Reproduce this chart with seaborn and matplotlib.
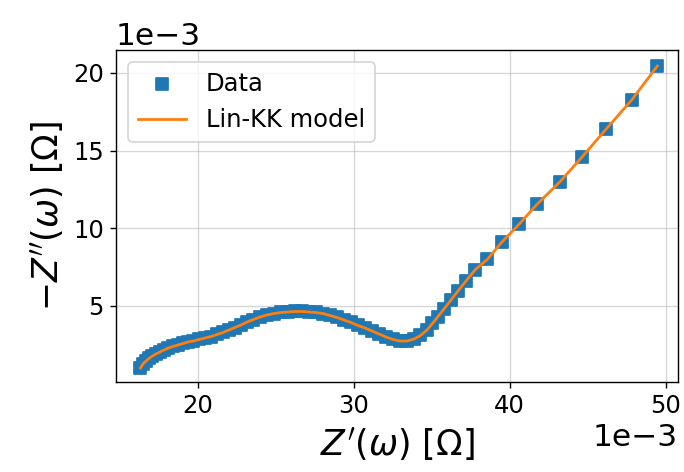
import numpy as np
import pandas as pd
import matplotlib
matplotlib.use("Agg")
import matplotlib.pyplot as plt
import seaborn as sns

# Impedance data (Ohm)
z_real = [0.016342, 0.016502, 0.016694, 0.016887, 0.017111, 0.017335, 0.017591, 0.017848,
          0.018136, 0.018424, 0.018744, 0.019065, 0.019385, 0.019737, 0.020090, 0.020474,
          0.020858, 0.021243, 0.021627, 0.022012, 0.022396, 0.022780, 0.023165, 0.023581,
          0.023997, 0.024446, 0.024894, 0.025343, 0.025791, 0.026240, 0.026688, 0.027136,
          0.027585, 0.028033, 0.028482, 0.028930, 0.029379, 0.029827, 0.030275, 0.030724,
          0.031172, 0.031621, 0.032069, 0.032518, 0.032966, 0.033414, 0.033863, 0.034279,
          0.034696, 0.035048, 0.035400, 0.035785, 0.036233, 0.036682, 0.037194, 0.037770,
          0.038560, 0.039480, 0.040610, 0.041760, 0.043220, 0.044610, 0.046160, 0.047810,
          0.049450]
z_neg_imag = [0.001010, 0.001268, 0.001461, 0.001622, 0.001782, 0.001911, 0.002040, 0.002169,
              0.002297, 0.002394, 0.002490, 0.002587, 0.002683, 0.002748, 0.002844, 0.002941,
              0.003037, 0.003166, 0.003295, 0.003456, 0.003616, 0.003777, 0.003970, 0.004131,
              0.004292, 0.004421, 0.004517, 0.004582, 0.004614, 0.004646, 0.004646, 0.004614,
              0.004582, 0.004517, 0.004389, 0.004260, 0.004099, 0.003938, 0.003745, 0.003584,
              0.003391, 0.003198, 0.003005, 0.002844, 0.002748, 0.002748, 0.002876, 0.003102,
              0.003456, 0.003874, 0.004324, 0.004807, 0.005386, 0.005965, 0.006609, 0.007320,
              0.008000, 0.009100, 0.010280, 0.011560, 0.013000, 0.014570, 0.016370, 0.018260,
              0.020440]

# Lin-KK model evaluated at the same frequencies (follows the data)
model_real = list(z_real)
model_neg_imag = list(z_neg_imag)

labels = ["Data", "Lin-KK model"]

data_df = pd.DataFrame({"zr": z_real, "zi": z_neg_imag})
model_df = pd.DataFrame({"zr": model_real, "zi": model_neg_imag})

W, H, DPI = 684, 472, 125
fig = plt.figure(figsize=(W / DPI, H / DPI), dpi=DPI)
ax = fig.add_axes([116 / W, 1 - 382 / H, (678 - 116) / W, (382 - 50) / H])

sns.scatterplot(data=data_df, x="zr", y="zi", marker="s", s=44, color="C0",
                edgecolor="C0", linewidth=1, label=labels[0], ax=ax, zorder=2)
sns.lineplot(data=model_df, x="zr", y="zi", sort=False, estimator=None, color="C1",
             linewidth=1.6, label=labels[1], ax=ax, zorder=3)

ax.set_xlim(0.014773, 0.050775)
ax.set_ylim(0.000109, 0.021474)
ax.set_xticks([0.020, 0.030, 0.040, 0.050])
ax.set_yticks([0.005, 0.010, 0.015, 0.020])

ax.set_xlabel(r"$Z^{\prime}(\omega)$ $[\Omega]$", fontsize=20)
ax.set_ylabel(r"$-Z^{\prime\prime}(\omega)$ $[\Omega]$", fontsize=20)
ax.tick_params(axis="both", which="major", labelsize=14)
ax.grid(True, which="major", axis="both", alpha=0.5)
ax.ticklabel_format(style="sci", axis="both", scilimits=(-3, -3))
ax.yaxis.get_offset_text().set_size(18)
ax.xaxis.get_offset_text().set_size(18)

ax.legend(loc="upper left", fontsize=14)

fig.savefig("out.png", dpi=DPI)
